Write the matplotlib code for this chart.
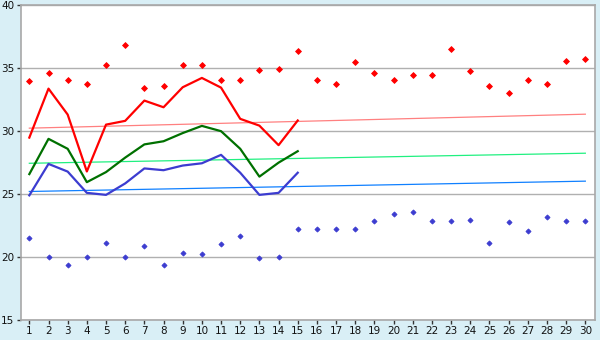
import matplotlib
matplotlib.use("Agg")
import matplotlib.pyplot as plt

days = list(range(1, 31))
line_days = list(range(1, 16))

upper_points = [34.0, 34.6, 34.05, 33.73, 35.24, 36.83, 33.41, 33.57, 35.24, 35.24,
                34.05, 34.05, 34.84, 34.92, 36.35, 34.05, 33.73, 35.48, 34.6, 34.05,
                34.44, 34.44, 36.5, 34.76, 33.57, 33.0, 34.05, 33.73, 35.56, 35.71]
lower_points = [21.51, 20.0, 19.33, 20.0, 21.11, 20.0, 20.87, 19.33, 20.32, 20.24,
                21.03, 21.67, 19.92, 20.0, 22.22, 22.22, 22.22, 22.22, 22.86, 23.41,
                23.57, 22.86, 22.86, 22.94, 21.11, 22.78, 22.06, 23.21, 22.86, 22.86]

red_line = [29.49, 33.38, 31.32, 26.8, 30.52, 30.82, 32.43, 31.9, 33.49, 34.23,
            33.46, 30.98, 30.44, 28.89, 30.85]
green_line = [26.59, 29.39, 28.6, 25.95, 26.75, 27.9, 28.95, 29.2, 29.85, 30.42,
              30.0, 28.6, 26.39, 27.5, 28.41]
blue_line = [24.9, 27.4, 26.79, 25.1, 24.94, 25.85, 27.04, 26.9, 27.27, 27.45,
             28.12, 26.7, 24.94, 25.1, 26.7]

trend_x = [1, 30]
red_trend = [30.24, 31.35]
green_trend = [27.45, 28.25]
blue_trend = [25.21, 26.03]

y_ticks = [15, 20, 25, 30, 35, 40]

fig = plt.figure(figsize=(6, 3.4), dpi=100)
fig.patch.set_facecolor("#d9eff6")
ax = fig.add_axes([20.7 / 600, 20 / 340, 574.6 / 600, 314.7 / 340])
ax.set_facecolor("white")

for y in y_ticks:
    ax.axhline(y, color="#b0b0b0", lw=1.0, zorder=1)

ax.plot(trend_x, red_trend, color="#ff8080", lw=0.9, zorder=2)
ax.plot(trend_x, green_trend, color="#20f080", lw=0.9, zorder=2)
ax.plot(trend_x, blue_trend, color="#1080ff", lw=0.9, zorder=2)

ax.plot(line_days, red_line, color="#ff0000", lw=1.6, zorder=3)
ax.plot(line_days, green_line, color="#007000", lw=1.6, zorder=3)
ax.plot(line_days, blue_line, color="#3c3cd0", lw=1.6, zorder=3)

ax.plot(days, upper_points, ls="none", marker="D", ms=3.0, color="#ff0000",
        mec="#ff0000", mew=0.6, zorder=4)
ax.plot(days, lower_points, ls="none", marker="D", ms=2.6, color="#3c3cd0",
        mec="#3c3cd0", mew=0.6, zorder=4)

ax.set_xlim(0.55, 30.52)
ax.set_ylim(15, 40)
ax.set_xticks(days)
ax.set_xticklabels([str(d) for d in days])
ax.set_yticks(y_ticks)
ax.set_yticklabels([str(v) for v in y_ticks])
ax.tick_params(axis="both", direction="out", length=3, width=1, color="#333333",
               labelsize=7.5, labelcolor="#111111", pad=1.5)
for s in ax.spines.values():
    s.set_color("#a8a8a8")
    s.set_linewidth(1.2)

fig.savefig("out.png", dpi=100, facecolor=fig.get_facecolor())
